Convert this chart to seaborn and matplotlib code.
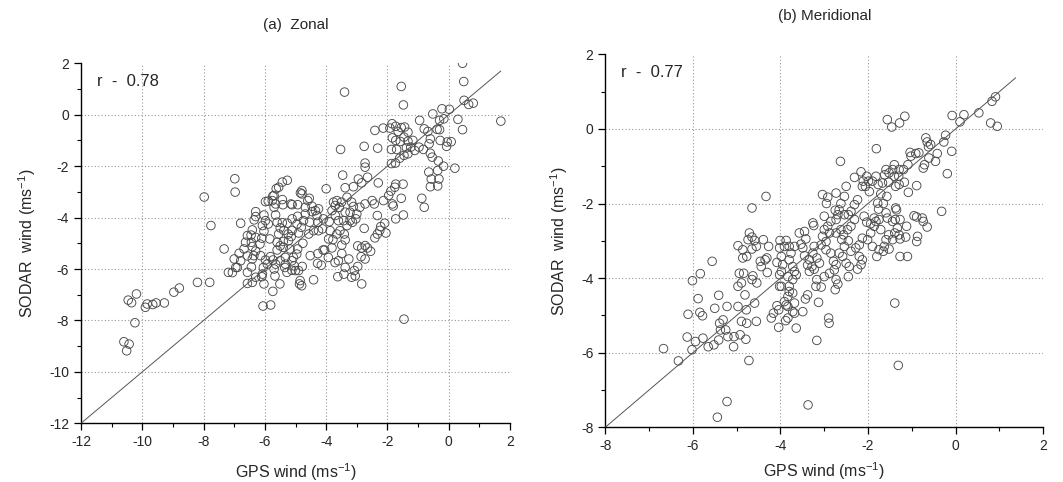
import numpy as np
import pandas as pd
import matplotlib
matplotlib.use("Agg")
import matplotlib.pyplot as plt
import seaborn as sns

# (a) Zonal: GPS wind vs SODAR wind
zonal_gps = [
    0.45, 0.49, -1.55, -3.4, -1.48, 0.5, 0.65, 0.8, 1.7, 0.3, 0.45, -0.22, 0.02, -0.52, -0.16, -0.3,
    -0.38, -0.95, -0.8, -0.68, -0.6, -0.3, -0.28, -0.05, 0.08, -0.07, -0.64, -0.83, -0.97, -0.6, -0.54,
    -0.34, -0.17, 0.2, -0.36, -0.65, -0.57, -0.32, -0.6, -0.36, -0.88, -0.8,
    -2.41, -2.14, -1.92, -1.85, -1.73, -1.65, -1.55, -1.44, -1.33, -1.84, -1.73, -1.58, -1.46, -1.33,
    -1.17, -1.24, -1.11, -1.38, -1.87, -1.7, -1.46, -1.6, -1.33, -3.53, -2.32, -2.76, -1.87, -1.74,
    -2.73, -2.73, -3.46, -2.3, -1.76, -1.73, -1.49, -1.89, -1.96, -2.13, -1.55, -1.84, -1.81, -1.48,
    -1.73, -2.65, -2.95, -3.11, -3.38, -2.84, -3.32, -3.17, -2.9, -3.11, -2.73, -2.5, -2.43, -2.33,
    -3.0, -3.22, -3.38, -3.32, -3.6, -3.7, -3.57, -3.81, -4.0, -3.76, -2.76, -2.41, -2.33, -2.22,
    -2.25, -2.09, -2.05, -2.73, -2.65, -2.55, -2.84, -2.97, -2.73, -2.86, -2.97, -3.08, -3.05, -3.17,
    -2.84, -3.26, -3.38, -3.42, -3.62, -3.6, -3.71, -3.49, -3.49, -3.38, -3.55, -3.81, -4.05, -3.78,
    -3.92, -3.87, -3.9, -4.09, -4.12, -4.27, -4.41, -4.3, -4.25, -4.46, -4.25, -4.54, -4.57, -4.74,
    -4.68, -4.68, -4.55, -4.79, -4.79, -4.93, -4.93, -4.95, -4.81, -4.9, -4.76, -5.11, -5.24, -5.14,
    -5.23, -5.38, -5.11, -5.27, -5.43, -5.5, -5.55, -5.6, -5.65, -5.7, -5.65, -5.76, -5.7, -5.55,
    -5.43, -5.27, -5.43, -5.41, -5.11, -5.98, -6.03, -5.98, -6.08, -5.89, -6.03, -5.84, -6.1, -6.16,
    -6.3, -6.35, -6.41, -6.45, -6.3, -6.44, -6.57, -6.63, -6.79, -6.68, -6.84, -7.0, -6.95, -6.57,
    -6.41, -6.36, -6.44, -6.57, -6.57, -6.41, -6.3, -6.3, -6.41, -6.14, -6.05, -6.08, -6.03, -6.1,
    -5.92, -5.98, -5.82, -5.74, -5.65, -5.7, -5.67, -5.74, -6.06, -5.81, -5.51, -5.5, -5.33, -5.35,
    -5.28, -5.33, -5.12, -5.04, -5.12, -5.07, -4.96, -4.93, -5.18, -5.4, -5.6, -5.6, -5.4, -5.5,
    -4.9, -4.85, -4.8, -4.87, -4.78, -5.0, -4.52, -4.27, -4.28, -4.16, -3.93, -4.1, -4.41,
    -6.98, -6.97, -7.98, -7.76, -7.33, -7.19, -7.06, -6.9, -6.79, -8.2, -7.8, -8.79, -8.97, -9.55,
    -9.28, -9.66, -9.84, -9.9, -10.19, -10.46, -10.35, -10.24, -10.6, -10.43, -10.51,
    -6.3, -5.89, -5.74, -5.63, -5.15, -4.84, -4.6, -4.46, -4.35, -3.65, -3.7, -3.5, -3.22, -3.14,
    -3.03, -3.43, -3.65, -3.41, -1.46,
]
zonal_sodar = [
    2.0, 1.29, 1.1, 0.88, 0.38, 0.56, 0.4, 0.45, -0.25, -0.18, -0.58, 0.23, 0.21, 0.03, -0.16, -0.22,
    -0.57, -0.22, -0.55, -0.65, -0.94, -0.58, -1.0, -1.06, -1.05, -1.23, -1.13, -1.35, -1.26, -1.5, -1.65,
    -1.8, -2.0, -2.08, -2.17, -2.23, -2.5, -2.5, -2.8, -2.77, -3.25, -3.6,
    -0.61, -0.52, -0.52, -0.35, -0.45, -0.65, -0.5, -0.48, -0.68, -0.9, -1.0, -1.04, -0.87, -1.03,
    -1.0, -1.26, -1.39, -1.29, -1.35, -1.35, -1.58, -1.69, -1.52, -1.35, -1.3, -1.23, -1.9, -1.88,
    -1.88, -2.04, -2.35, -2.65, -2.82, -2.7, -2.7, -2.97, -3.14, -3.34, -3.25, -3.47, -3.55, -3.9,
    -4.05, -2.43, -2.5, -2.8, -2.84, -2.65, -3.21, -3.4, -3.6, -3.57, -3.47, -3.34, -3.47, -3.92,
    -3.86, -4.12, -3.79, -4.31, -4.12, -3.92, -3.6, -3.73, -2.88, -3.4, -4.42, -4.79, -4.64, -4.35,
    -4.5, -4.22, -4.6, -5.09, -5.18, -5.31, -5.18, -5.1, -5.61, -5.52, -5.9, -6.06, -6.27, -6.32,
    -6.58, -5.61, -5.94, -6.2, -6.3, -5.68, -5.75, -5.4, -5.07, -4.87, -4.51, -5.18, -5.26, -4.86,
    -4.83, -4.51, -4.16, -4.05, -4.44, -4.18, -4.51, -3.92, -3.66, -3.77, -4.51, -4.18, -4.64, -4.12,
    -3.86, -3.6, -3.25, -2.95, -3.08, -3.5, -3.95, -4.25, -4.38, -4.6, -5.0, -4.5, -4.64, -4.74,
    -4.9, -4.5, -4.05, -4.22, -4.2, -4.4, -4.64, -4.18, -3.9, -3.6, -3.47, -3.34, -3.14, -2.82,
    -2.62, -2.55, -3.3, -3.5, -3.5, -3.38, -3.9, -4.12, -4.31, -4.25, -4.53, -4.83, -4.8, -5.03,
    -3.77, -4.09, -4.48, -4.68, -4.77, -4.96, -4.7, -4.96, -4.22, -5.22, -5.39, -5.61, -5.94, -5.49,
    -5.61, -5.48, -5.92, -6.13, -6.56, -6.52, -6.32, -5.3, -5.13, -5.48, -5.94, -6.2, -6.58, -6.3,
    -5.81, -5.65, -5.52, -5.65, -5.81, -6.0, -6.27, -6.87, -7.44, -7.4, -6.58, -5.68, -5.55, -5.94,
    -6.13, -5.81, -6.05, -5.88, -5.68, -5.55, -5.42, -5.22, -5.22, -5.16, -5.26, -4.96, -4.93, -5.1,
    -6.06, -6.45, -6.65, -6.58, -5.9, -6.06, -5.48, -5.4, -5.78, -5.85, -5.55, -5.26, -6.42,
    -2.49, -3.01, -3.2, -4.31, -5.22, -6.13, -6.14, -5.94, -5.68, -6.52, -6.52, -6.74, -6.9, -7.32,
    -7.32, -7.38, -7.36, -7.49, -6.97, -7.21, -7.31, -8.09, -8.83, -8.92, -9.18,
    -3.96, -3.36, -3.16, -2.88, -3.47, -3.04, -3.34, -3.56, -3.73, -3.34, -3.53, -3.4, -3.79, -4.18,
    -4.05, -4.12, -4.64, -4.64, -7.95,
]

# (b) Meridional
merid_gps = [
    0.91, 0.83, 0.8, 0.95, 0.53, 0.19, 0.1, -0.08, -1.56, -1.46, -1.28, -1.16, -1.81, -2.63, -0.09,
    -0.27, -0.23, -0.19, -0.32, -0.68, -0.65, -0.57, -0.62, -0.42, -0.46, -0.61, -0.74, -0.71, -0.84,
    -0.91, -1.04, -1.02, -1.09, -1.08, -0.89, -1.19, -1.29, -1.4, -1.44, -1.52, -1.59, -1.62, -1.4,
    -1.3, -1.17, -1.29, -1.37, -1.53, -1.67, -1.77, -1.71, -1.57, -1.78, -1.37, -1.35, -1.82, -2.03,
    -2.11, -2.16, -1.99, -1.9, -2.06, -2.13, -2.31, -1.97, -2.5, -2.54, -2.73, -3.04, -2.95, -2.92,
    -2.62, -2.66, -2.75, -2.69, -2.54, -2.31, -2.24, -2.39, -2.45, -2.31, -2.09, -2.03, -1.86, -1.76,
    -1.65, -1.59, -1.56, -1.75, -1.82, -1.94, -1.86, -1.71, -1.44, -1.38, -1.27, -1.33, -1.39, -1.29,
    -1.27, -1.44, -1.53, -1.59, -1.63, -1.52, -1.65, -1.75, -1.8, -1.9, -1.94, -2.01, -2.13, -2.2,
    -2.28, -2.2, -2.13, -2.16, -2.24, -2.43, -2.5, -2.45, -2.58, -2.66, -2.54, -2.39, -2.45, -2.56,
    -2.47, -2.39, -2.62, -2.73, -2.88, -3.04, -3.0, -2.92, -2.85, -3.0, -2.96, -3.07, -2.96, -2.85,
    -2.79, -2.73, -2.77, -2.73, -2.69, -2.75, -2.88, -3.0, -3.07, -3.19, -3.17, -3.23, -3.17, -3.11,
    -3.23, -3.26, -3.34, -3.28, -3.34, -3.38, -3.45, -3.49, -3.53, -3.42, -3.26, -3.24, -3.45, -3.57,
    -3.68, -3.76, -3.8, -3.72, -3.68, -3.64, -3.72, -3.83, -3.8, -3.8, -3.83, -3.72, -3.68, -3.72,
    -3.68, -3.87, -3.83, -3.91, -3.98, -3.98, -3.95, -3.98, -4.02, -4.01, -3.87, -3.8, -3.91, -4.08,
    -4.02, -4.02, -4.08, -4.16, -4.21, -4.04, -4.04, -3.88, -3.83, -3.64, -3.49, -3.38, -3.43, -3.13,
    -3.17, -2.9, -2.89, -4.33, -4.65, -4.71, -4.65, -4.55, -4.74, -4.86, -4.97, -4.65, -4.59, -4.39,
    -4.27, -4.31, -4.35, -4.46, -4.44, -4.3, -4.63, -4.65, -4.54, -4.84, -4.94, -4.86, -4.77, -4.97,
    -4.89, -4.81, -4.97, -4.78, -4.59, -4.55, -4.77, -4.89, -4.79, -4.92, -5.06, -5.07, -5.2, -5.25,
    -5.31, -5.37, -5.39, -5.22, -5.41, -5.5, -5.41, -5.52, -5.65, -5.77, -5.94, -6.02, -6.13, -6.11,
    -5.88, -5.84, -5.78, -6.01, -5.83, -5.56, -6.33, -6.67, -4.72, -5.22, -5.44, -3.37, -1.31, -1.39,
    -2.73, -2.6, -0.95, -0.89, -0.76, -0.74, -0.65, -0.87, -0.89, -1.12, -1.14, -1.1, -1.27,
]
merid_sodar = [
    0.86, 0.74, 0.16, 0.07, 0.43, 0.38, 0.19, 0.36, 0.25, 0.05, 0.16, 0.34, -0.53, -0.87, -0.6,
    -0.35, -0.17, -1.2, -2.21, -0.24, -0.35, -0.42, -0.48, -0.66, -0.87, -0.78, -1.05, -0.96, -0.64,
    -0.66, -0.63, -0.73, -0.96, -1.7, -1.52, -1.09, -1.09, -0.96, -1.09, -1.18, -1.09, -1.23, -1.27,
    -1.27, -1.43, -1.49, -1.54, -1.43, -1.45, -1.49, -1.74, -1.81, -1.99, -2.12, -2.17, -1.27, -1.27,
    -1.4, -1.15, -1.4, -1.4, -1.54, -1.54, -1.3, -1.68, -1.54, -1.81, -1.72, -1.76, -2.0, -1.83,
    -2.0, -2.17, -2.18, -2.3, -2.3, -2.03, -1.9, -2.21, -2.3, -2.43, -2.34, -2.5, -2.39, -2.15,
    -2.0, -2.25, -2.39, -2.43, -2.48, -2.54, -2.61, -2.7, -2.48, -2.43, -2.43, -2.66, -2.79, -2.84,
    -2.95, -2.97, -2.84, -2.97, -3.15, -3.22, -3.28, -3.24, -3.42, -3.15, -2.79, -2.97, -2.93, -3.11,
    -3.19, -3.42, -3.51, -3.64, -3.76, -3.69, -3.6, -3.96, -3.42, -3.33, -3.15, -3.28, -3.0, -2.84,
    -2.7, -2.61, -2.7, -2.79, -2.79, -2.88, -2.7, -2.61, -2.48, -2.34, -3.02, -3.11, -3.24, -3.33,
    -3.55, -3.64, -3.78, -4.04, -4.16, -4.31, -3.87, -3.96, -4.24, -4.22, -4.04, -3.76, -3.46, -3.6,
    -3.15, -3.33, -3.51, -3.69, -3.82, -3.65, -3.4, -3.19, -3.09, -2.95, -2.52, -2.59, -2.75, -2.79,
    -3.15, -3.33, -3.51, -3.69, -3.82, -3.91, -4.04, -3.96, -4.22, -4.36, -4.49, -4.4, -4.67, -4.9,
    -4.94, -4.72, -4.76, -4.63, -4.22, -3.82, -3.64, -3.42, -3.19, -2.99, -2.99, -3.15, -3.15, -3.58,
    -3.91, -4.22, -4.74, -4.94, -5.07, -4.85, -5.32, -5.14, -5.07, -5.34, -4.9, -4.45, -4.56, -4.65,
    -5.67, -5.07, -5.21, -1.81, -2.12, -2.79, -2.9, -3.15, -2.97, -3.24, -3.13, -3.22, -2.99, -2.97,
    -3.15, -3.46, -3.51, -3.55, -3.69, -3.85, -3.94, -4.04, -4.13, -3.87, -3.87, -3.46, -3.42, -4.22,
    -4.13, -4.45, -4.76, -4.85, -4.67, -5.16, -5.21, -5.16, -5.64, -5.52, -5.57, -5.84, -5.57, -5.39,
    -5.12, -5.39, -5.21, -4.76, -4.46, -4.81, -5.66, -5.79, -5.84, -5.61, -5.7, -5.92, -5.58, -4.97,
    -4.55, -4.92, -5.01, -4.07, -3.88, -3.55, -6.22, -5.89, -6.21, -7.31, -7.73, -7.4, -6.34, -4.67,
    -2.43, -2.97, -2.33, -2.36, -2.39, -2.48, -2.63, -2.88, -3.02, -2.61, -2.9, -3.42, -3.42,
]

panels = [
    ("(a)  Zonal", zonal_gps, zonal_sodar, "r  -  0.78", (-12, 2), (-12, 2), 1.7,
     [0.0762, 0.1218, 0.4036, 0.7469], 9, 25),
    ("(b) Meridional", merid_gps, merid_sodar, "r  -  0.77", (-8, 2), (-8, 2), 1.37,
     [0.5694, 0.1135, 0.4120, 0.7738], 5, 25),
]

sns.set_style("ticks")
plt.rcParams["font.family"] = ["Liberation Sans", "DejaVu Sans"]
plt.rcParams["mathtext.fontset"] = "custom"
plt.rcParams["mathtext.rm"] = "Liberation Sans"
plt.rcParams["mathtext.default"] = "regular"
plt.rcParams["axes.unicode_minus"] = False

fig = plt.figure(figsize=(10.63, 4.82), dpi=100)

for title, gx, sy, rtext, xlim, ylim, line_end, rect, xpad, tpad in panels:
    ax = fig.add_axes(rect)
    df = pd.DataFrame({"gps": gx, "sodar": sy})
    sns.scatterplot(data=df, x="gps", y="sodar", ax=ax, s=38,
                    facecolor="none", edgecolor="#4a4a4a", linewidth=0.65, zorder=3)
    ax.plot([xlim[0], line_end], [ylim[0], line_end], color="#555555", lw=0.7, zorder=4)
    ax.set_xlim(*xlim)
    ax.set_ylim(*ylim)
    ax.set_xticks(np.arange(xlim[0], xlim[1] + 1, 2))
    ax.set_yticks(np.arange(ylim[0], ylim[1] + 1, 2))
    ax.set_xticks(np.arange(xlim[0] + 1, xlim[1], 2), minor=True)
    ax.set_yticks(np.arange(ylim[0] + 1, ylim[1], 2), minor=True)
    ax.tick_params(which="major", direction="out", length=5, width=0.9, labelsize=10, color="black")
    ax.tick_params(which="minor", direction="out", length=3, width=0.8, color="black")
    for s in ["top", "right"]:
        ax.spines[s].set_visible(False)
    for s in ["left", "bottom"]:
        ax.spines[s].set_color("black")
        ax.spines[s].set_linewidth(1.0)
    # dotted grid at interior major ticks only
    for v in np.arange(xlim[0] + 2, xlim[1], 2):
        ax.axvline(v, color="#999999", ls=(0, (1, 2)), lw=0.8, zorder=1)
    for v in np.arange(ylim[0] + 2, ylim[1], 2):
        ax.axhline(v, color="#999999", ls=(0, (1, 2)), lw=0.8, zorder=1)
    ax.set_xlabel("GPS wind (ms$^{-1}$)", fontsize=11.5, labelpad=xpad)
    ax.set_ylabel("SODAR  wind (ms$^{-1}$)", fontsize=11.5, labelpad=8)
    ax.set_title(title, fontsize=11, pad=tpad)
    ax.text(0.037, 0.95, rtext, transform=ax.transAxes, fontsize=12, va="center", ha="left")

fig.savefig("out.png", dpi=100)
